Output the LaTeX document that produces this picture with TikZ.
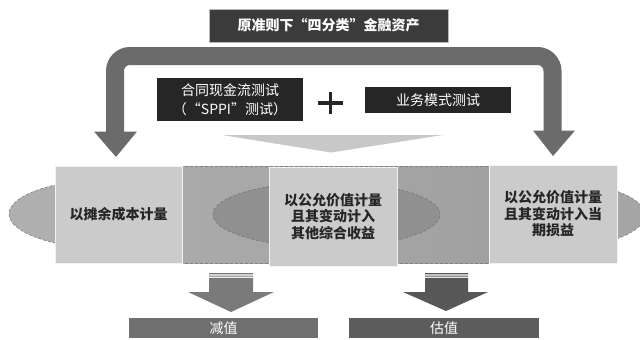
\documentclass[tikz,border=0pt]{standalone}
\usepackage{fontspec}
\setmainfont{Noto Sans CJK SC}
\usetikzlibrary{shapes.geometric}
\definecolor{topbox}{HTML}{3B3B3B}
\definecolor{testbox}{HTML}{262626}
\definecolor{uarrow}{HTML}{6B6B6B}
\definecolor{wedge}{HTML}{C8C8C8}
\definecolor{lightrect}{HTML}{CBCBCB}
\definecolor{sideell}{HTML}{AFAFAF}
\definecolor{rightell}{HTML}{A6A6A6}
\definecolor{bandL}{HTML}{ABABAB}
\definecolor{bandR}{HTML}{A0A0A0}
\definecolor{midell}{HTML}{909090}
\definecolor{arrL}{HTML}{7A7A7A}
\definecolor{arrR}{HTML}{575757}
\definecolor{barL}{HTML}{6F6F6F}
\definecolor{barR}{HTML}{5C5C5C}
\tikzset{
  darkbox/.style={fill=testbox, draw=none, text=white, inner sep=0pt, align=center,
    font=\fontsize{14}{19}\selectfont},
  measure/.style={fill=lightrect, draw=white!90!gray, line width=0.6pt, inner sep=0pt, align=center,
    font=\fontsize{14}{16.5}\selectfont\bfseries, text=black!85},
  ellshape/.style={ellipse, draw=black!55, densely dashed, line width=0.5pt, inner sep=0pt},
  resultbar/.style={inner sep=0pt, text=white, font=\fontsize{14}{16}\selectfont,
    minimum height=20pt},
}
\begin{document}
\begin{tikzpicture}[x=1pt,y=-1pt]
\useasboundingbox (0,0) rectangle (640,340);
\fill[white] (0,0) rectangle (640,340);

% top title
\node[fill=topbox, draw=gray!55, line width=0.6pt, text=white, inner sep=0pt,
  minimum width=239pt, minimum height=33pt,
  font=\fontsize{14}{16}\selectfont\bfseries] (title) at (328.5,25.5)
  {原准则下“四分类”金融资产};

% U-shaped arrow
\coordinate (ul) at (115,132);
\coordinate (ur) at (552.5,131);
\draw[uarrow, line width=18pt, rounded corners=15pt] (ul) -- (115,56) -- (552.5,56) -- (ur);
\fill[uarrow] (94,131.5) -- (137,131.5) -- (116,157) -- cycle;
\fill[uarrow] (533,130.5) -- (575,130.5) -- (553,156) -- cycle;

% tests
\node[darkbox, minimum width=146pt, minimum height=43pt] (sppi) at (230,99.5)
  {合同现金流测试\\（“SPPI”测试）};
\node[darkbox, minimum width=146pt, minimum height=26pt] (bm) at (438,100)
  {业务模式测试};
\coordinate (plusc) at (330.5,103);
\draw[black!85, line width=3.2pt] ([xshift=-12.5pt]plusc) -- ([xshift=12.5pt]plusc)
  ([yshift=-11pt]plusc) -- ([yshift=11pt]plusc);

% light wedge
\fill[wedge] (222,135) -- (443,135) -- (331,152.5) -- cycle;

% band with ellipses
\node[ellshape, fill=sideell, minimum width=226pt, minimum height=72pt] (ellL) at (122,214) {};
\node[ellshape, fill=rightell, minimum width=226pt, minimum height=72pt] (ellR) at (532,215) {};
\shade[left color=bandL, right color=bandR] (150,166) rectangle (520,263);
\draw[black!50, densely dashed, line width=0.5pt] (150,166) -- (520,166) (150,263) -- (520,263);
\node[ellshape, fill=midell, minimum width=227pt, minimum height=65pt] (ellM) at (326.5,214.5) {};

\node[measure, minimum width=127pt, minimum height=97pt] (amc) at (118.5,214.5)
  {以摊余成本计量};
\node[measure, minimum width=128pt, minimum height=99pt] (oci) at (333,216.5)
  {以公允价值计量\\且其变动计入\\其他综合收益};
\node[measure, minimum width=128pt, minimum height=98pt] (pl) at (553,214)
  {以公允价值计量\\且其变动计入当\\期损益};

% bottom arrows
\fill[arrL] (209,273) rectangle (253,274.3)
            (209,275.6) rectangle (253,276.7)
            (209,277.8) rectangle (253,292.5);
\fill[arrL] (188,292) -- (274,292) -- (231,312) -- cycle;
\fill[arrR] (425,273) rectangle (468,274.3)
            (425,275.6) rectangle (468,276.7)
            (425,277.8) rectangle (468,292.5);
\fill[arrR] (403,292) -- (488,292) -- (446,311) -- cycle;

\node[resultbar, fill=barL, minimum width=189pt] (imp) at (223.5,328) {减值};
\node[resultbar, fill=barR, minimum width=190pt] (val) at (444,328) {估值};
\end{tikzpicture}
\end{document}
